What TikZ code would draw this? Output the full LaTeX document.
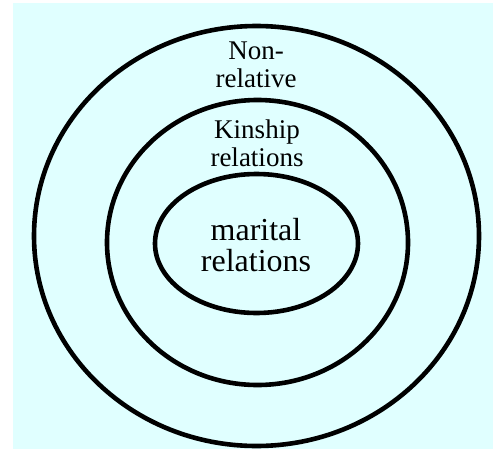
\documentclass[tikz,border=0pt]{standalone}
\usepackage{fontspec}
\setmainfont{Liberation Serif}
\usetikzlibrary{shapes.geometric}
\definecolor{bgcyan}{HTML}{E0FFFF}
\tikzset{
    ring/.style={draw=black, line width=2.3pt, ellipse, inner sep=0pt},
    lbl/.style={align=center, inner sep=0pt, font=\fontsize{13.5}{14}\selectfont}
}

\begin{document}
\begin{tikzpicture}[x=0.5pt, y=-0.5pt]
        % canvas and background
        \useasboundingbox (0,0) rectangle (493,450);
        \fill [bgcyan] (13,3) rectangle (493,449);

        % nested rings
        \node [ring, minimum width=222.5pt, minimum height=210pt] (outer) at (256.5,236) {};
        \node [ring, minimum width=150.5pt, minimum height=142.5pt] (middle) at (257.5,242.5) {};
        \node [ring, minimum width=101.5pt, minimum height=69.5pt] (inner) at (256.5,243.5) {};

        % texts
        \node [lbl] (nonrel) at (256,65) {Non-\\relative};
        \node [lbl] (kin) at (257,143) {Kinship\\relations};
        \node [lbl, font=\fontsize{16}{15.5}\selectfont] (marital) at (256,245) {marital\\relations};
    \end{tikzpicture}
\end{document}
